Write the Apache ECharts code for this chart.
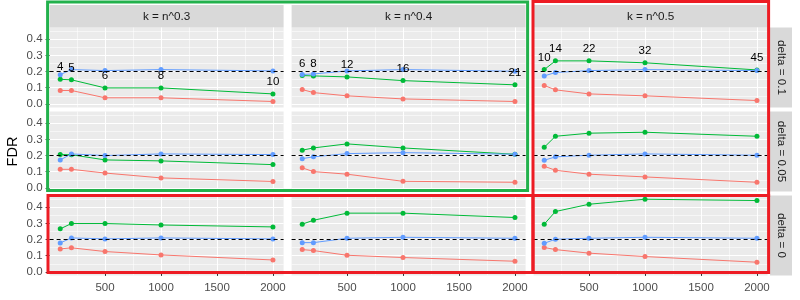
<!DOCTYPE html>
<html><head><meta charset="utf-8">
<script src="https://cdn.jsdelivr.net/npm/echarts@6/dist/echarts.min.js"></script>
<style>html,body{margin:0;padding:0;background:#fff}#c{width:800px;height:300px}</style>
</head><body><div id="c"></div>
<script>
// ---------- data ----------
const nValues = [100, 200, 500, 1000, 2000];
const colLabels = ['k = n^0.3', 'k = n^0.4', 'k = n^0.5'];
const rowLabels = ['delta = 0.1', 'delta = 0.05', 'delta = 0'];
const kLabels03 = [4, 5, 6, 8, 10];
const kLabels04 = [6, 8, 12, 16, 21];
const kLabels05 = [10, 14, 22, 32, 45];
const yTicks = [0, 0.1, 0.2, 0.3, 0.4];
const yMinor = [0.05, 0.15, 0.25, 0.35, 0.45];
const xTicks = [500, 1000, 1500, 2000];
const xMinor = [250, 750, 1250, 1750];
const targetFDR = 0.2;
// each: [k=n^0.3, k=n^0.4, k=n^0.5]
const red_d01 = [[0.083,0.083,0.038,0.038,0.015],[0.089,0.070,0.050,0.031,0.015],[0.114,0.087,0.062,0.050,0.021]];
const red_d005 = [[0.115,0.115,0.092,0.062,0.040],[0.124,0.101,0.085,0.041,0.035],[0.134,0.109,0.085,0.068,0.035]];
const red_d0 = [[0.142,0.149,0.126,0.105,0.074],[0.138,0.132,0.103,0.089,0.066],[0.151,0.138,0.116,0.095,0.060]];
const green_d01 = [[0.152,0.149,0.099,0.099,0.062],[0.175,0.173,0.167,0.144,0.118],[0.212,0.266,0.266,0.254,0.210]];
const green_d005 = [[0.206,0.205,0.173,0.167,0.144],[0.233,0.247,0.272,0.247,0.208],[0.251,0.319,0.338,0.344,0.319]];
const green_d0 = [[0.266,0.299,0.299,0.290,0.278],[0.295,0.319,0.363,0.363,0.336],[0.295,0.373,0.418,0.449,0.441]];
const blue_d01 = [[0.181,0.212,0.206,0.212,0.204],[0.182,0.185,0.204,0.212,0.202],[0.173,0.194,0.206,0.212,0.206]];
const blue_d005 = [[0.173,0.210,0.200,0.210,0.206],[0.181,0.192,0.212,0.218,0.208],[0.171,0.192,0.202,0.210,0.202]];
const blue_d0 = [[0.179,0.210,0.204,0.210,0.204],[0.181,0.181,0.208,0.214,0.208],[0.177,0.202,0.208,0.214,0.208]];

// ---------- layout ----------
const redRows = [red_d01, red_d005, red_d0];
const greenRows = [green_d01, green_d005, green_d0];
const blueRows = [blue_d01, blue_d005, blue_d0];
const kLabelCols = [kLabels03, kLabels04, kLabels05];
const W = 234, H = 80;
const colLeft = [49.6, 291.6, 533.6];
const rowTop = [27.5, 111.5, 195.5];
const FONT = "'Liberation Sans', Arial, sans-serif";
const COLORS = {red:'#F8766D', green:'#00BA38', blue:'#619CFF'};

const grids = [], xAxes = [], yAxes = [], series = [], graphics = [];
let gi = 0;
for (let r = 0; r < 3; r++) {
  for (let c = 0; c < 3; c++) {
    grids.push({left: colLeft[c], top: rowTop[r], width: W, height: H, show: true,
      backgroundColor: '#EBEBEB', borderWidth: 0, containLabel: false});
    const bottom = r === 2, left = c === 0;
    xAxes.push({type: 'value', gridIndex: gi, min: 5, max: 2095,
      axisLine: {show: false},
      axisTick: {show: bottom, customValues: xTicks, length: 4, lineStyle: {color: '#333', width: 1}},
      axisLabel: {show: bottom, customValues: xTicks, color: '#4D4D4D', fontSize: 11.5, margin: 6, fontFamily: FONT,
        formatter: v => String(v)},
      splitLine: {show: false}});
    yAxes.push({type: 'value', gridIndex: gi, min: -0.022, max: 0.472,
      axisLine: {show: false},
      axisTick: {show: left, customValues: yTicks, length: 4, lineStyle: {color: '#333', width: 1}},
      axisLabel: {show: left, customValues: yTicks, color: '#4D4D4D', fontSize: 11.5, margin: 7, fontFamily: FONT,
        formatter: v => v.toFixed(1)},
      splitLine: {show: false}});
    // grid lines
    const gl = [];
    xMinor.forEach(v => gl.push({xAxis: v, lineStyle: {width: 0.55}}));
    yMinor.forEach(v => gl.push({yAxis: v, lineStyle: {width: 0.55}}));
    xTicks.forEach(v => gl.push({xAxis: v, lineStyle: {width: 1.1}}));
    yTicks.forEach(v => gl.push({yAxis: v, lineStyle: {width: 1.1}}));
    series.push({type: 'line', xAxisIndex: gi, yAxisIndex: gi, data: [], z: 0, silent: true, animation: false,
      markLine: {z: 0, silent: true, symbol: ['none', 'none'], animation: false, label: {show: false},
        lineStyle: {color: '#FFFFFF', type: 'solid'}, emphasis: {disabled: true}, data: gl}});
    const mk = (name, arr) => ({
      type: 'line', name, xAxisIndex: gi, yAxisIndex: gi, z: 10, animation: false,
      data: nValues.map((n, i) => [n, arr[c][i]]),
      symbol: 'circle', symbolSize: 5, showSymbol: true,
      lineStyle: {color: COLORS[name], width: 1}, itemStyle: {color: COLORS[name]},
      emphasis: {disabled: true}
    });
    series.push(mk('red', redRows[r]));
    const g = mk('green', greenRows[r]);
    if (r === 0) {
      const labs = kLabelCols[c];
      g.label = {show: true, position: 'inside', offset: [0, -12], color: '#000', fontSize: 11.5, fontFamily: FONT,
        formatter: p => String(labs[p.dataIndex])};
    }
    series.push(g);
    series.push(mk('blue', blueRows[r]));
    series.push({type: 'line', xAxisIndex: gi, yAxisIndex: gi, data: [], z: 11, silent: true, animation: false,
      markLine: {z: 11, silent: true, symbol: ['none', 'none'], animation: false, label: {show: false},
        lineStyle: {color: '#000', type: [4, 3], width: 1}, emphasis: {disabled: true},
        data: [{yAxis: targetFDR}]}});
    gi++;
  }
}
// strips
for (let c = 0; c < 3; c++) {
  graphics.push({type: 'rect', shape: {x: colLeft[c], y: 5, width: W, height: 22.5}, style: {fill: '#D9D9D9'}, z: 0});
  graphics.push({type: 'text', x: colLeft[c] + W / 2, y: 16.5, z: 1,
    style: {text: colLabels[c], fill: '#1A1A1A', font: '11.7px ' + FONT, align: 'center', verticalAlign: 'middle',
      textAlign: 'center', textVerticalAlign: 'middle'}});
}
for (let r = 0; r < 3; r++) {
  graphics.push({type: 'rect', shape: {x: 770, y: rowTop[r], width: 22, height: H}, style: {fill: '#D9D9D9'}, z: 0});
  graphics.push({type: 'text', x: 781, y: rowTop[r] + H / 2, rotation: -Math.PI / 2, z: 1,
    style: {text: rowLabels[r], fill: '#1A1A1A', font: '11.7px ' + FONT, align: 'center', verticalAlign: 'middle',
      textAlign: 'center', textVerticalAlign: 'middle'}});
}
graphics.push({type: 'text', x: 13, y: 151.5, rotation: Math.PI / 2, z: 1,
  style: {text: 'FDR', fill: '#000', font: '14.5px ' + FONT, align: 'center', verticalAlign: 'middle',
    textAlign: 'center', textVerticalAlign: 'middle'}});
// highlight boxes
const box = (x1, y1, x2, y2, color) => ({type: 'rect', z: 100, silent: true,
  shape: {x: x1, y: y1, width: x2 - x1, height: y2 - y1}, style: {fill: 'none', stroke: color, lineWidth: 3}});
graphics.push(box(colLeft[0] - 2, 2, colLeft[1] + W + 2, rowTop[1] + H - 1, '#22B14C'));
graphics.push(box(colLeft[2] - 0.6, 1.5, colLeft[2] + W + 1, rowTop[2], '#ED1C24'));
graphics.push(box(colLeft[0] - 1.6, rowTop[2], colLeft[2] - 0.6, rowTop[2] + H - 3, '#ED1C24'));
graphics.push(box(colLeft[2] - 0.6, rowTop[2], colLeft[2] + W + 1, rowTop[2] + H - 3, '#ED1C24'));

const chart = echarts.init(document.getElementById('c'), null, {renderer: 'canvas'});
chart.setOption({
  animation: false,
  backgroundColor: '#FFFFFF',
  textStyle: {fontFamily: FONT},
  grid: grids, xAxis: xAxes, yAxis: yAxes, series: series, graphic: graphics
});
</script></body></html>
